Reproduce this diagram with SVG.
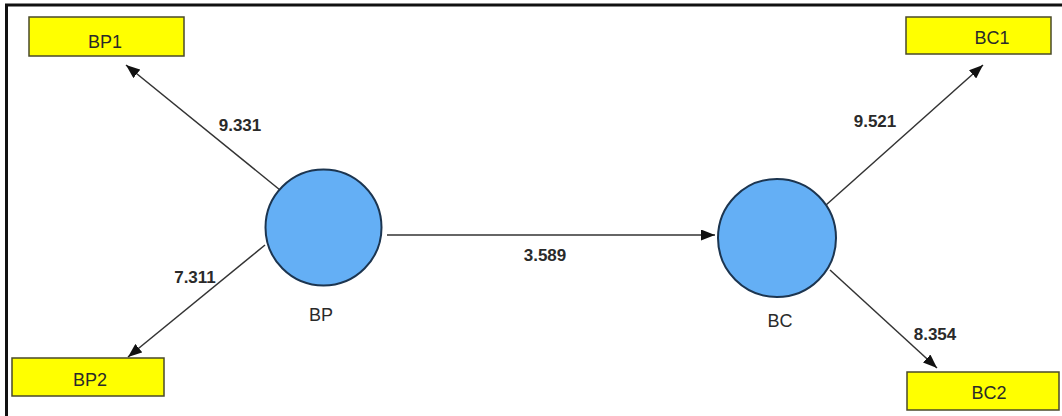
<svg xmlns="http://www.w3.org/2000/svg" width="1062" height="416" viewBox="0 0 1062 416">
<defs>
<style>
.box{fill:#ffff00;stroke:#4a4a2a;stroke-width:1.5}
.lv{fill:#64aff5;stroke:#1c3550;stroke-width:2}
.lbl{font-family:"Liberation Sans",Arial,sans-serif;font-size:18px;fill:#2a2a2a;text-anchor:middle}
.num{font-family:"Liberation Sans",Arial,sans-serif;font-size:17px;font-weight:bold;fill:#2a2a2a;text-anchor:middle}
.edge{stroke:#333;stroke-width:1.5;fill:none;marker-end:url(#ah)}
</style>
<marker id="ah" viewBox="0 0 14 11" refX="14" refY="5.5" markerWidth="14" markerHeight="11" markerUnits="userSpaceOnUse" orient="auto">
<path d="M0,0 L14,5.5 L0,11 z" fill="#111"/>
</marker>
</defs>
<rect width="1062" height="416" fill="#ffffff"/>
<path d="M6.5,416 V5 H1062" fill="none" stroke="#111" stroke-width="3"/>
<g id="connectors">
<line class="edge" x1="280" y1="190" x2="126" y2="65"/>
<line class="edge" x1="265" y1="245" x2="128" y2="357"/>
<line class="edge" x1="387" y1="235" x2="715" y2="235"/>
<line class="edge" x1="826" y1="205" x2="983" y2="65"/>
<line class="edge" x1="830" y1="270" x2="937" y2="368"/>
<text class="num" x="240" y="131">9.331</text>
<text class="num" x="195" y="283">7.311</text>
<text class="num" x="545" y="261">3.589</text>
<text class="num" x="875" y="127">9.521</text>
<text class="num" x="935" y="340">8.354</text>
</g>
<g id="BP1">
<rect class="box" x="29" y="17" width="155" height="39"/>
<text class="lbl" x="105" y="48">BP1</text>
</g>
<g id="BP2">
<rect class="box" x="12" y="358" width="152" height="38"/>
<text class="lbl" x="90" y="386">BP2</text>
</g>
<g id="BC1">
<rect class="box" x="906" y="17" width="145" height="37"/>
<text class="lbl" x="992" y="44">BC1</text>
</g>
<g id="BC2">
<rect class="box" x="907" y="372" width="152" height="38"/>
<text class="lbl" x="989" y="399">BC2</text>
</g>
<g id="BP">
<circle class="lv" cx="323.5" cy="227.5" r="58"/>
<text class="lbl" x="321" y="321">BP</text>
</g>
<g id="BC">
<circle class="lv" cx="777" cy="238" r="59"/>
<text class="lbl" x="780" y="327">BC</text>
</g>
</svg>
